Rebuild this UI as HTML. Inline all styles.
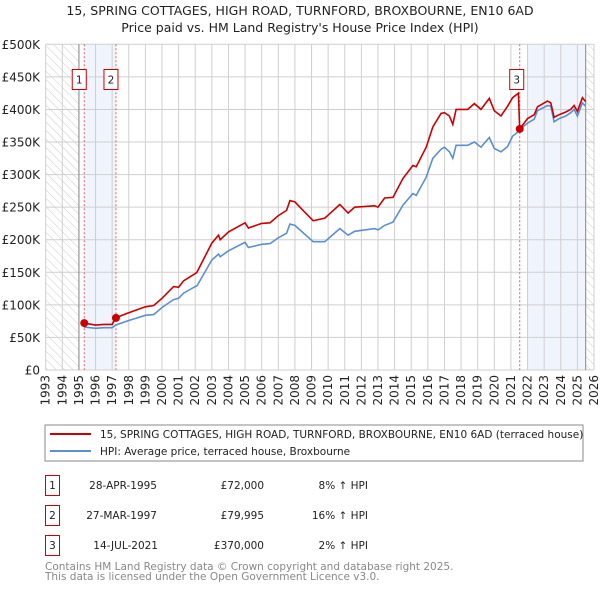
<!DOCTYPE html>
<html><head><meta charset="utf-8"><style>
body{margin:0;background:#fff;width:600px;height:590px;overflow:hidden;font-family:"DejaVu Sans","Liberation Sans",sans-serif;}
svg text{font-family:"DejaVu Sans","Liberation Sans",sans-serif;}
</style></head><body>
<svg id="chart" width="600" height="590" xmlns="http://www.w3.org/2000/svg">
<defs><pattern id="hatch" width="6" height="6" patternUnits="userSpaceOnUse" patternTransform="rotate(-45)"><line x1="0" y1="0" x2="0" y2="6" stroke="#ccc" stroke-width="1"/></pattern></defs>
<text x="300" y="15" text-anchor="middle" font-size="12.5" fill="#222">15, SPRING COTTAGES, HIGH ROAD, TURNFORD, BROXBOURNE, EN10 6AD</text>
<text x="300" y="32" text-anchor="middle" font-size="12.5" fill="#222">Price paid vs. HM Land Registry's House Price Index (HPI)</text>
<g id="plot"></g>
<rect x="45" y="425" width="538" height="36" fill="#fff" stroke="#888"/>
<line x1="50" y1="434" x2="91" y2="434" stroke="#cc0000" stroke-width="2"/>
<text x="100" y="438" font-size="10.5" fill="#222">15, SPRING COTTAGES, HIGH ROAD, TURNFORD, BROXBOURNE, EN10 6AD (terraced house)</text>
<line x1="50" y1="451" x2="91" y2="451" stroke="#5b8fd0" stroke-width="2"/>
<text x="100" y="455" font-size="10.5" fill="#222">HPI: Average price, terraced house, Broxbourne</text>
<g font-size="10.5" fill="#222">
<rect x="45.5" y="475.5" width="14" height="20" fill="#fff" stroke="#cc0000"/><text x="52.5" y="489" text-anchor="middle">1</text>
<text x="157" y="489" text-anchor="end">28-APR-1995</text><text x="264" y="489" text-anchor="end">£72,000</text><text x="368" y="489" text-anchor="end">8% ↑ HPI</text>
<rect x="45.5" y="505.5" width="14" height="20" fill="#fff" stroke="#cc0000"/><text x="52.5" y="519" text-anchor="middle">2</text>
<text x="157" y="519" text-anchor="end">27-MAR-1997</text><text x="264" y="519" text-anchor="end">£79,995</text><text x="368" y="519" text-anchor="end">16% ↑ HPI</text>
<rect x="45.5" y="535.5" width="14" height="20" fill="#fff" stroke="#cc0000"/><text x="52.5" y="549" text-anchor="middle">3</text>
<text x="158" y="549" text-anchor="end">14-JUL-2021</text><text x="264" y="549" text-anchor="end">£370,000</text><text x="368" y="549" text-anchor="end">2% ↑ HPI</text>
</g>
<text x="45" y="570" font-size="10.5" fill="#888">Contains HM Land Registry data © Crown copyright and database right 2025.</text>
<text x="45" y="580" font-size="10.5" fill="#888">This data is licensed under the Open Government Licence v3.0.</text>
</svg>
<script>
const yearTicks=[1993,1994,1995,1996,1997,1998,1999,2000,2001,2002,2003,2004,2005,2006,2007,2008,2009,2010,2011,2012,2013,2014,2015,2016,2017,2018,2019,2020,2021,2022,2023,2024,2025,2026];
const valueTicks=[0,50,100,150,200,250,300,350,400,450,500];
const valueLabels=["£0","£50K","£100K","£150K","£200K","£250K","£300K","£350K","£400K","£450K","£500K"];
const years=[1995.3,1996,1996.5,1997.0,1997.2,1998,1999,1999.5,2000,2000.7,2001,2001.3,2002,2002.1,2003,2003.4,2003.5,2004,2005,2005.2,2006,2006.5,2007,2007.5,2007.7,2008,2008.3,2009.1,2009.8,2010.7,2011.2,2011.6,2012.8,2013,2013.4,2013.9,2014.5,2015.1,2015.3,2015.9,2016.3,2016.8,2017,2017.3,2017.5,2017.7,2018.4,2018.8,2019.2,2019.7,2020,2020.4,2020.8,2021.1,2021.45,2021.53,2022,2022.4,2022.6,2023.2,2023.4,2023.6,2023.9,2024.3,2024.6,2024.8,2025,2025.3,2025.5];
const hpiValues=[66,64,65,65,69,76,84,85,96,108,110,118,128,129,169,178,174,183,196,188,193,194,203,210,224,222,215,197,197,217,207,213,217,215,222,227,253,271,268,296,325,339,342,335,325,345,345,350,342,357,340,335,343,359,366,369,379,385,398,406,405,381,386,390,395,400,390,410,405];
const priceValues=[72,69,70,70,80,88,97,99,110,128,127,137,148,150,195,207,200,212,226,218,225,226,237,245,260,258,250,229,233,254,241,250,252,250,264,265,294,314,312,342,373,394,395,390,377,400,400,409,400,417,398,390,405,418,425,370,386,392,404,413,410,388,392,396,400,406,397,418,412];
const saleYears=[1995.32,1997.23,2021.53];
const saleValues=[72,79.995,370];
const saleLabels=["1","2","3"];
const L=45.7,R=594,T=44.3,B=370;
const X=y=>L+(y-1993)/(2026-1993)*(R-L);
const Y=v=>B-v/500*(B-T);
const g=document.getElementById('plot');
const NS="http://www.w3.org/2000/svg";
function mk(tag,attrs){const e=document.createElementNS(NS,tag);for(const k in attrs)e.setAttribute(k,attrs[k]);g.appendChild(e);return e;}
let h1=mk('rect',{x:L,y:T,width:X(1995)-L,height:B-T,fill:'url(#hatch)'});


let h2=mk('rect',{x:X(2025.5),y:T,width:R-X(2025.5),height:B-T,fill:'url(#hatch)'});


let s1=mk('rect',{x:X(saleYears[0]),y:T,width:X(saleYears[1])-X(saleYears[0]),height:B-T,fill:'#f0f4fd'});


let s2=mk('rect',{x:X(2022),y:T,width:X(2025.5)-X(2022),height:B-T,fill:'#f0f4fd'});


yearTicks.forEach(yr=>{
 let l=mk('line',{x1:X(yr),x2:X(yr),y1:T,y2:B,stroke:'#cfcfcf','stroke-width':1});
 
 
 let t=mk('text',{x:0,y:0,'font-size':12,fill:'#222','text-anchor':'end',transform:`translate(${X(yr)+4},${B+5}) rotate(-90)`});
 t.textContent=yr;
 
 
});
valueTicks.forEach((v,i)=>{
 let l=mk('line',{x1:L,x2:R,y1:Y(v),y2:Y(v),stroke:'#cfcfcf','stroke-width':1});
 
 
 let t=mk('text',{x:40,y:Y(v)+4.5,'font-size':12,fill:'#222','text-anchor':'end'});
 t.textContent=valueLabels[i];
 
 
});
let b1=mk('line',{x1:X(1995),x2:X(1995),y1:T,y2:B,stroke:'#888','stroke-width':1});


let b2=mk('line',{x1:X(2025.5),x2:X(2025.5),y1:T,y2:B,stroke:'#888','stroke-width':1});


saleYears.forEach((sy,i)=>{
 let l=mk('line',{x1:X(sy),x2:X(sy),y1:T,y2:B,stroke:'#e06060','stroke-width':1,'stroke-dasharray':'2,2'});
 
 
});
const pts=arr=>arr.map((v,i)=>X(years[i]).toFixed(1)+','+Y(v).toFixed(1)).join(' ');
let hp=mk('polyline',{points:pts(hpiValues),fill:'none',stroke:'#5b8fd0','stroke-width':1.6});


let pp=mk('polyline',{points:pts(priceValues),fill:'none',stroke:'#cc0000','stroke-width':1.6});


saleYears.forEach((sy,i)=>{
 let c=mk('circle',{cx:X(sy),cy:Y(saleValues[i]),r:4,fill:'#cc0000'});
 
 
 const bx=X(sy)-(i==2?3:5);
 let r=mk('rect',{x:bx-7,y:69.5,width:14,height:20,fill:'#fff',stroke:'#cc0000'});
 
 
 let t=mk('text',{x:bx,y:83.5,'font-size':10.5,fill:'#222','text-anchor':'middle'});
 t.textContent=saleLabels[i];
 
 
});
</script>
</body></html>
